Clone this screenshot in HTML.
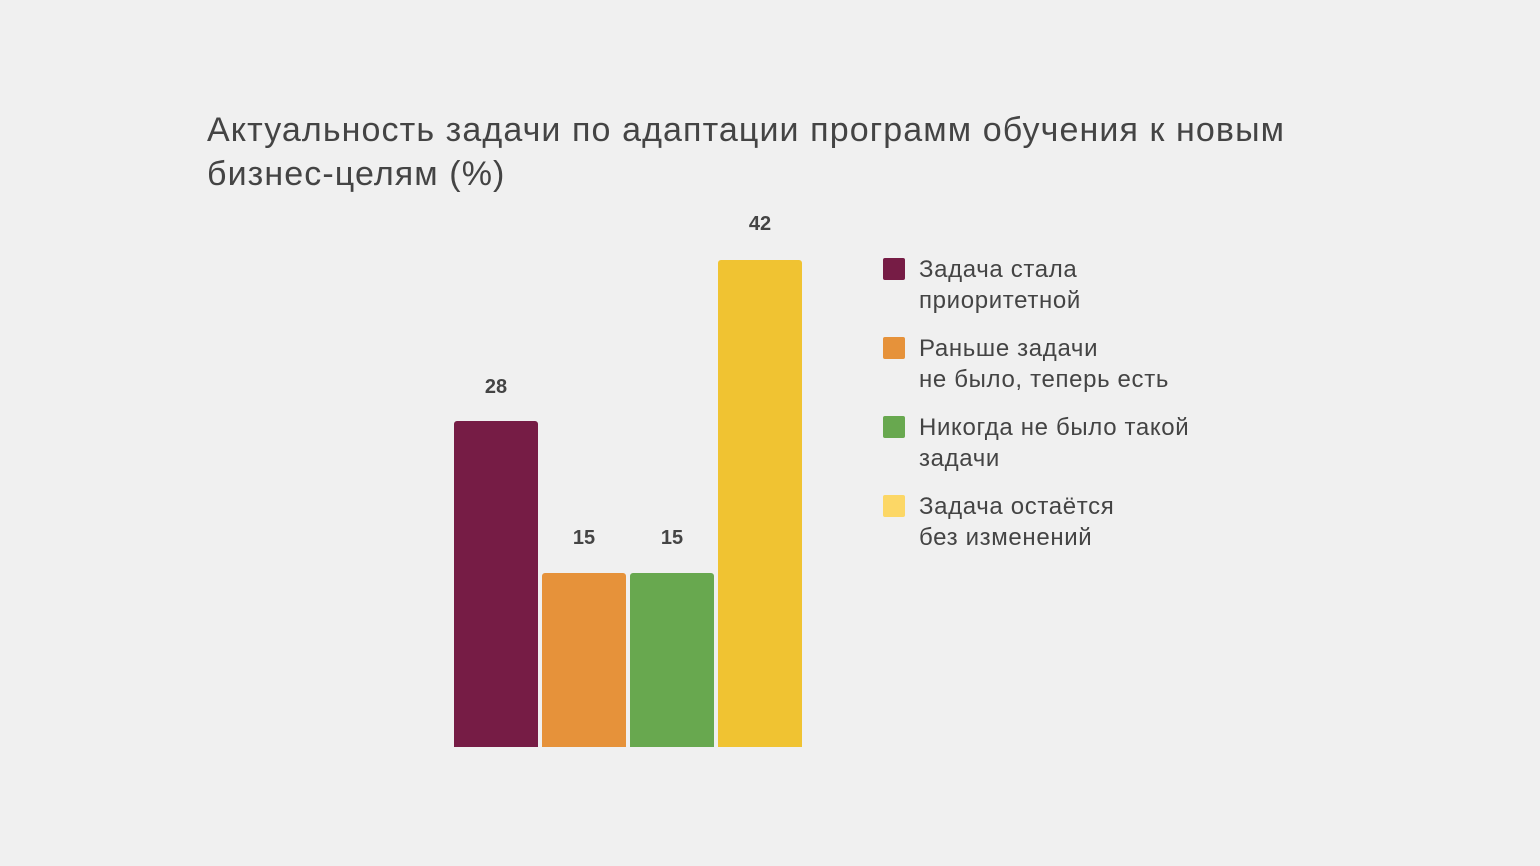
<!DOCTYPE html>
<html><head><meta charset="utf-8"><style>
body{margin:0;width:1540px;height:866px;background:#f0f0f0;position:relative;overflow:hidden;font-family:"Liberation Sans","DejaVu Sans",sans-serif;color:#444}
.t{position:absolute;left:207px;top:108px;font-size:34px;line-height:44px;color:#444;white-space:nowrap;letter-spacing:1.1px}
.b{position:absolute;width:84px;border-radius:3px 3px 0 0}
.v{position:absolute;width:84px;text-align:center;font-weight:bold;font-size:20px;color:#444}
.sq{position:absolute;left:883px;width:22px;height:22px;border-radius:2px}
.lg{position:absolute;left:919px;font-size:24px;line-height:31px;color:#444;white-space:nowrap;letter-spacing:0.65px}
</style></head><body>
<div class="t">Актуальность задачи по адаптации программ обучения к новым<br>бизнес-целям (%)</div>
<div class="b" style="left:454px;top:421px;height:326px;background:#761c45"></div>
<div class="b" style="left:542px;top:573px;height:174px;background:#e6923a"></div>
<div class="b" style="left:630px;top:573px;height:174px;background:#68a84f"></div>
<div class="b" style="left:718px;top:260px;height:487px;background:#f0c332"></div>
<div class="v" style="left:454px;top:376px">28</div>
<div class="v" style="left:542px;top:527px">15</div>
<div class="v" style="left:630px;top:527px">15</div>
<div class="v" style="left:718px;top:213px">42</div>
<div class="sq" style="top:258px;background:#761c45"></div>
<div class="lg" style="top:254px">Задача стала<br>приоритетной</div>
<div class="sq" style="top:337px;background:#e6923a"></div>
<div class="lg" style="top:333px">Раньше задачи<br>не было, теперь есть</div>
<div class="sq" style="top:416px;background:#68a84f"></div>
<div class="lg" style="top:412px">Никогда не было такой<br>задачи</div>
<div class="sq" style="top:495px;background:#fcd766"></div>
<div class="lg" style="top:491px">Задача остаётся<br>без изменений</div>
</body></html>
